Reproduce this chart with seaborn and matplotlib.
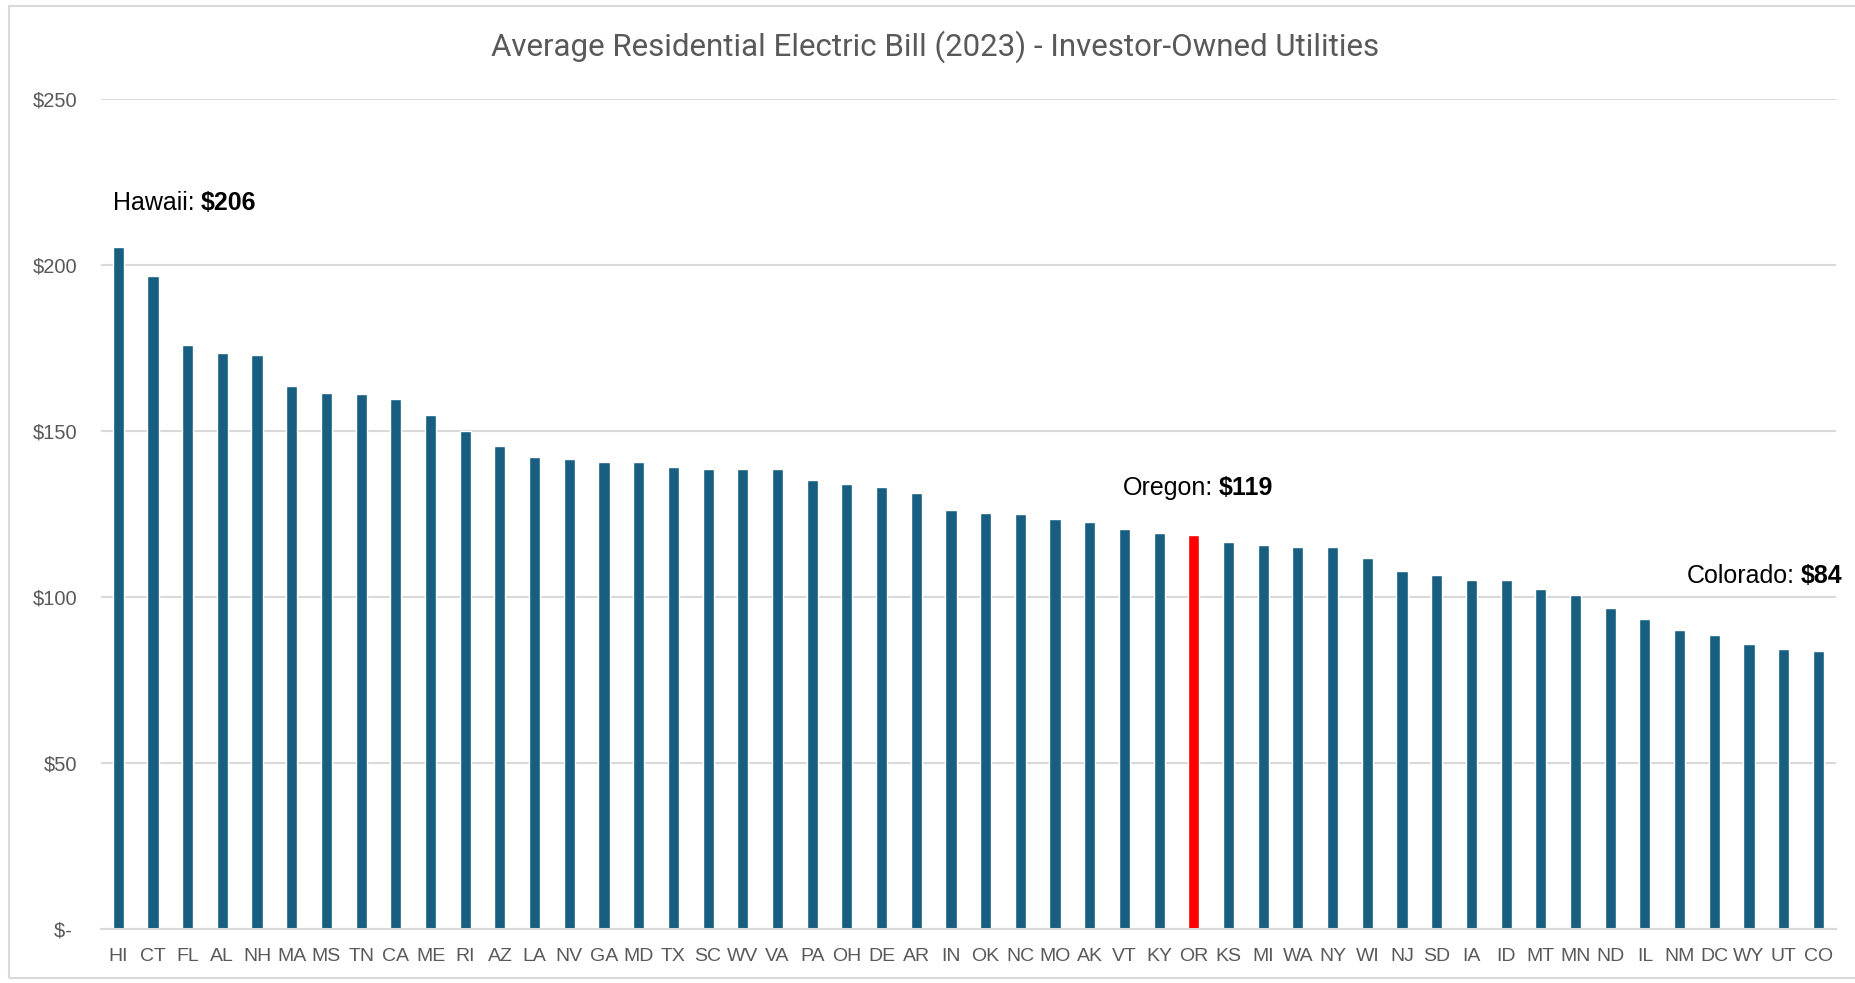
import matplotlib
matplotlib.use("Agg")
import matplotlib.pyplot as plt
from matplotlib import font_manager
from matplotlib.patches import Rectangle
import seaborn as sns

# average monthly bill, investor-owned utilities, 2023
states = ["HI", "CT", "FL", "AL", "NH", "MA", "MS", "TN", "CA", "ME",
          "RI", "AZ", "LA", "NV", "GA", "MD", "TX", "SC", "WV", "VA",
          "PA", "OH", "DE", "AR", "IN", "OK", "NC", "MO", "AK", "VT",
          "KY", "OR", "KS", "MI", "WA", "NY", "WI", "NJ", "SD", "IA",
          "ID", "MT", "MN", "ND", "IL", "NM", "DC", "WY", "UT", "CO"]
bills = [205.6, 196.6, 175.8, 173.5, 172.9, 163.7, 161.6, 161.2, 159.7, 154.9,
         149.9, 145.5, 142.2, 141.5, 140.8, 140.8, 139.0, 138.5, 138.5, 138.5,
         135.2, 133.9, 133.0, 131.2, 126.1, 125.4, 125.0, 123.5, 122.5, 120.6,
         119.2, 118.6, 116.4, 115.5, 114.9, 114.9, 111.6, 107.9, 106.5, 105.0,
         105.0, 102.5, 100.7, 96.6, 93.3, 90.0, 88.5, 85.9, 84.2, 83.8]
y_ticks = [0, 50, 100, 150, 200, 250]
y_labels = ["$- ", "$50", "$100", "$150", "$200", "$250"]

callouts = {"HI": "Hawaii", "OR": "Oregon", "CO": "Colorado"}
highlight = "OR"

BAR = "#175E80"
RED = "#FF0000"
GRID = "#D9D9D9"
GREY = "#595959"

names = {f.name for f in font_manager.fontManager.ttflist}
narrow = "Liberation Sans Narrow" if "Liberation Sans Narrow" in names else "Roboto"
regular = "Liberation Sans" if "Liberation Sans" in names else "DejaVu Sans"

sns.set_theme(style="white")
plt.rcParams["font.family"] = [regular, "DejaVu Sans"]

fig = plt.figure(figsize=(18.55, 9.83), dpi=100)
ax = fig.add_axes([0.0544, 0.0554, 0.9352, 0.8436])

colors = [RED if s == highlight else BAR for s in states]
sns.barplot(x=states, y=bills, hue=states, palette=colors, legend=False,
            width=0.32, saturation=1, ax=ax)

ax.set_xlim(-0.5, len(states) - 0.5)
ax.set_ylim(0, 250)
ax.set_yticks(y_ticks)
ax.set_yticklabels(y_labels)
ax.yaxis.grid(True, color=GRID, linewidth=1.5)
ax.set_axisbelow(True)
for side in ["top", "right", "left"]:
    ax.spines[side].set_visible(False)
ax.spines["bottom"].set_color(GRID)
ax.spines["bottom"].set_linewidth(1.5)
ax.tick_params(axis="x", length=0, pad=14, labelsize=14, labelcolor=GREY)
ax.tick_params(axis="y", length=0, pad=17, labelsize=14.5, labelcolor=GREY)
ax.set_xlabel("")
ax.set_ylabel("")

fig.text(0.504, 0.952, "Average Residential Electric Bill (2023) - Investor-Owned Utilities",
         ha="center", va="center", fontsize=22.5, color=GREY,
         family=[narrow, "DejaVu Sans"])

# callout labels: (x, y, alignment)
spots = {"HI": (-0.14, 218.6, "left"), "OR": (28.95, 132.7, "left"), "CO": (49.68, 106.3, "right")}
for code, (x, y, align) in spots.items():
    i = states.index(code)
    name = callouts[code] + ":"
    value = f"${round(bills[i])}"
    if align == "left":
        t = ax.text(x, y, name, ha="left", va="center", fontsize=18, color="black",
                    parse_math=False, clip_on=False)
        ax.annotate(value, xy=(1, 0.5), xycoords=t, xytext=(4, 0), textcoords="offset points",
                    ha="left", va="center", fontsize=18, fontweight="bold", color="black",
                    parse_math=False)
    else:
        t = ax.text(x, y, value, ha="right", va="center", fontsize=18, fontweight="bold",
                    color="black", parse_math=False, clip_on=False)
        ax.annotate(name, xy=(0, 0.5), xycoords=t, xytext=(-4, 0), textcoords="offset points",
                    ha="right", va="center", fontsize=18, color="black", parse_math=False)

# light frame around the chart
fig.patches.append(Rectangle((9 / 1855, 5 / 983), 1.0, 1 - 11 / 983, transform=fig.transFigure,
                             fill=False, edgecolor=GRID, linewidth=1.5))

fig.savefig("out.png", dpi=100)
